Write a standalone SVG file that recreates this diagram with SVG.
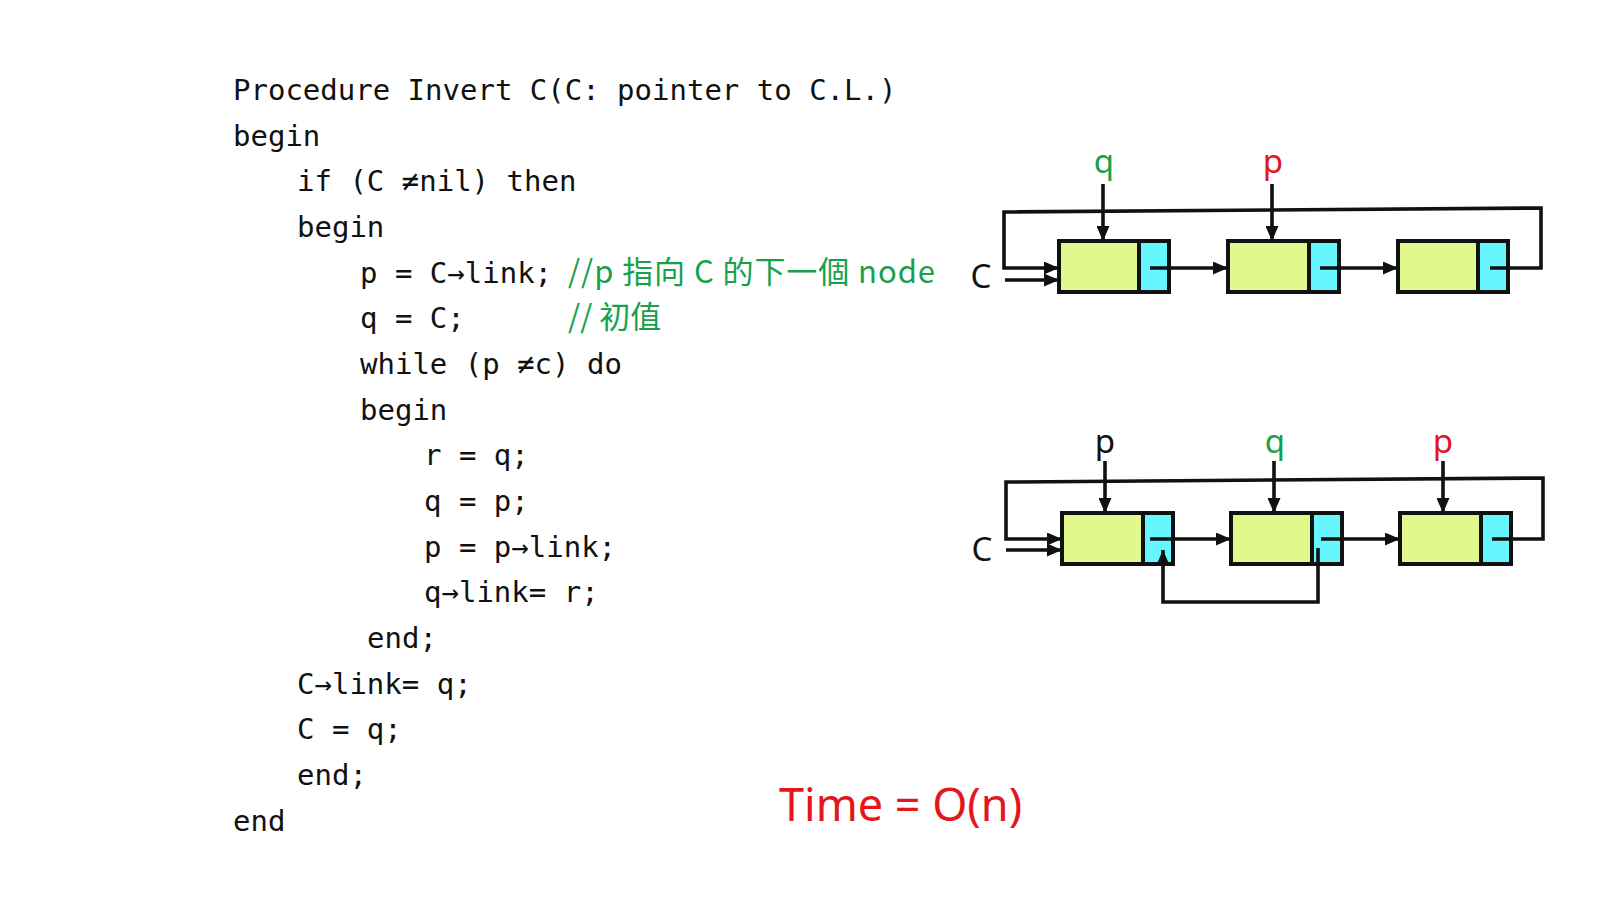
<svg xmlns="http://www.w3.org/2000/svg" width="1600" height="899" viewBox="0 0 1600 899">
<style>
.code{font-family:"DejaVu Sans Mono","Liberation Mono",monospace;font-size:29px;fill:#111}
.cmt{font-family:"Noto Sans CJK TC","Noto Sans",sans-serif;font-size:31px;fill:#18a04a}
.lbl{font-family:"Noto Sans","Liberation Sans",sans-serif;font-size:33px;text-anchor:middle}
.green{fill:#18a04a}
.red{fill:#e3161b}
.blk{fill:#111}
.data{fill:#e1f98c;stroke:#111;stroke-width:4}
.ptr{fill:#66f6ff;stroke:#111;stroke-width:4}
.arr{fill:none;stroke:#111;stroke-width:3.6;marker-end:url(#ah)}
</style>
<defs>
<marker id="ah" markerUnits="userSpaceOnUse" markerWidth="15" markerHeight="13" refX="15" refY="6.5" orient="auto">
<path d="M0,0 L15,6.5 L0,13 z" fill="#111"/>
</marker>
</defs>
<rect width="1600" height="899" fill="#fff"/>

<g id="code">
<text class="code" x="233" y="100">Procedure Invert C(C: pointer to C.L.)</text>
<text class="code" x="233" y="146">begin</text>
<text class="code" x="297" y="191">if (C ≠nil) then</text>
<text class="code" x="297" y="237">begin</text>
<text class="code" x="360" y="283">p = C→link;</text>
<text class="code" x="360" y="328">q = C;</text>
<text class="code" x="360" y="374">while (p ≠c) do</text>
<text class="code" x="360" y="420">begin</text>
<text class="code" x="424" y="465">r = q;</text>
<text class="code" x="424" y="511">q = p;</text>
<text class="code" x="424" y="557">p = p→link;</text>
<text class="code" x="424" y="602">q→link= r;</text>
<text class="code" x="367" y="648">end;</text>
<text class="code" x="297" y="694">C→link= q;</text>
<text class="code" x="297" y="739">C = q;</text>
<text class="code" x="297" y="785">end;</text>
<text class="code" x="233" y="831">end</text>
<text class="cmt" x="568" y="283" textLength="367">//p 指向 C 的下一個 node</text>
<text class="cmt" x="568" y="328">// 初值</text>
</g>

<text id="time" x="779" y="821" font-family="Noto Sans, Liberation Sans, sans-serif" font-size="45" fill="#e3161b">Time = O(n)</text>

<g id="diagram-top">
<g id="t-node1"><rect class="data" x="1059" y="241" width="80" height="51"/><rect class="ptr" x="1139" y="241" width="30" height="51"/></g>
<g id="t-node2"><rect class="data" x="1228" y="241" width="81" height="51"/><rect class="ptr" x="1309" y="241" width="30" height="51"/></g>
<g id="t-node3"><rect class="data" x="1398" y="241" width="80" height="51"/><rect class="ptr" x="1478" y="241" width="30" height="51"/></g>
<text class="lbl blk" x="981" y="288" font-size="30">C</text>
<text class="lbl green" x="1104" y="173">q</text>
<text class="lbl red" x="1273" y="173">p</text>
<g id="t-connectors">
<path class="arr" d="M1103,184 L1103,241"/>
<path class="arr" d="M1272,184 L1272,241"/>
<path class="arr" d="M1150,268 L1228,268"/>
<path class="arr" d="M1320,268 L1398,268"/>
<path class="arr" d="M1490,268 L1541,268 L1541,208 L1004,212 L1004,268 L1059,268"/>
<path class="arr" d="M1005,280 L1059,280"/>
</g>
</g>

<g id="diagram-bottom">
<g id="b-node1"><rect class="data" x="1062" y="513" width="81" height="51"/><rect class="ptr" x="1143" y="513" width="30" height="51"/></g>
<g id="b-node2"><rect class="data" x="1231" y="513" width="81" height="51"/><rect class="ptr" x="1312" y="513" width="30" height="51"/></g>
<g id="b-node3"><rect class="data" x="1400" y="513" width="81" height="51"/><rect class="ptr" x="1481" y="513" width="30" height="51"/></g>
<text class="lbl blk" x="982" y="561" font-size="30">C</text>
<text class="lbl blk" x="1105" y="453">p</text>
<text class="lbl green" x="1275" y="453">q</text>
<text class="lbl red" x="1443" y="453">p</text>
<g id="b-connectors">
<path class="arr" d="M1105,461 L1105,513"/>
<path class="arr" d="M1274,461 L1274,513"/>
<path class="arr" d="M1443,461 L1443,513"/>
<path class="arr" d="M1150,539 L1231,539"/>
<path class="arr" d="M1321,539 L1400,539"/>
<path class="arr" d="M1492,539 L1543,539 L1543,478 L1006,482 L1006,539 L1062,539"/>
<path class="arr" d="M1006,550 L1062,550"/>
<path class="arr" d="M1318,548 L1318,602 L1163,602 L1163,550"/>
</g>
</g>
</svg>
